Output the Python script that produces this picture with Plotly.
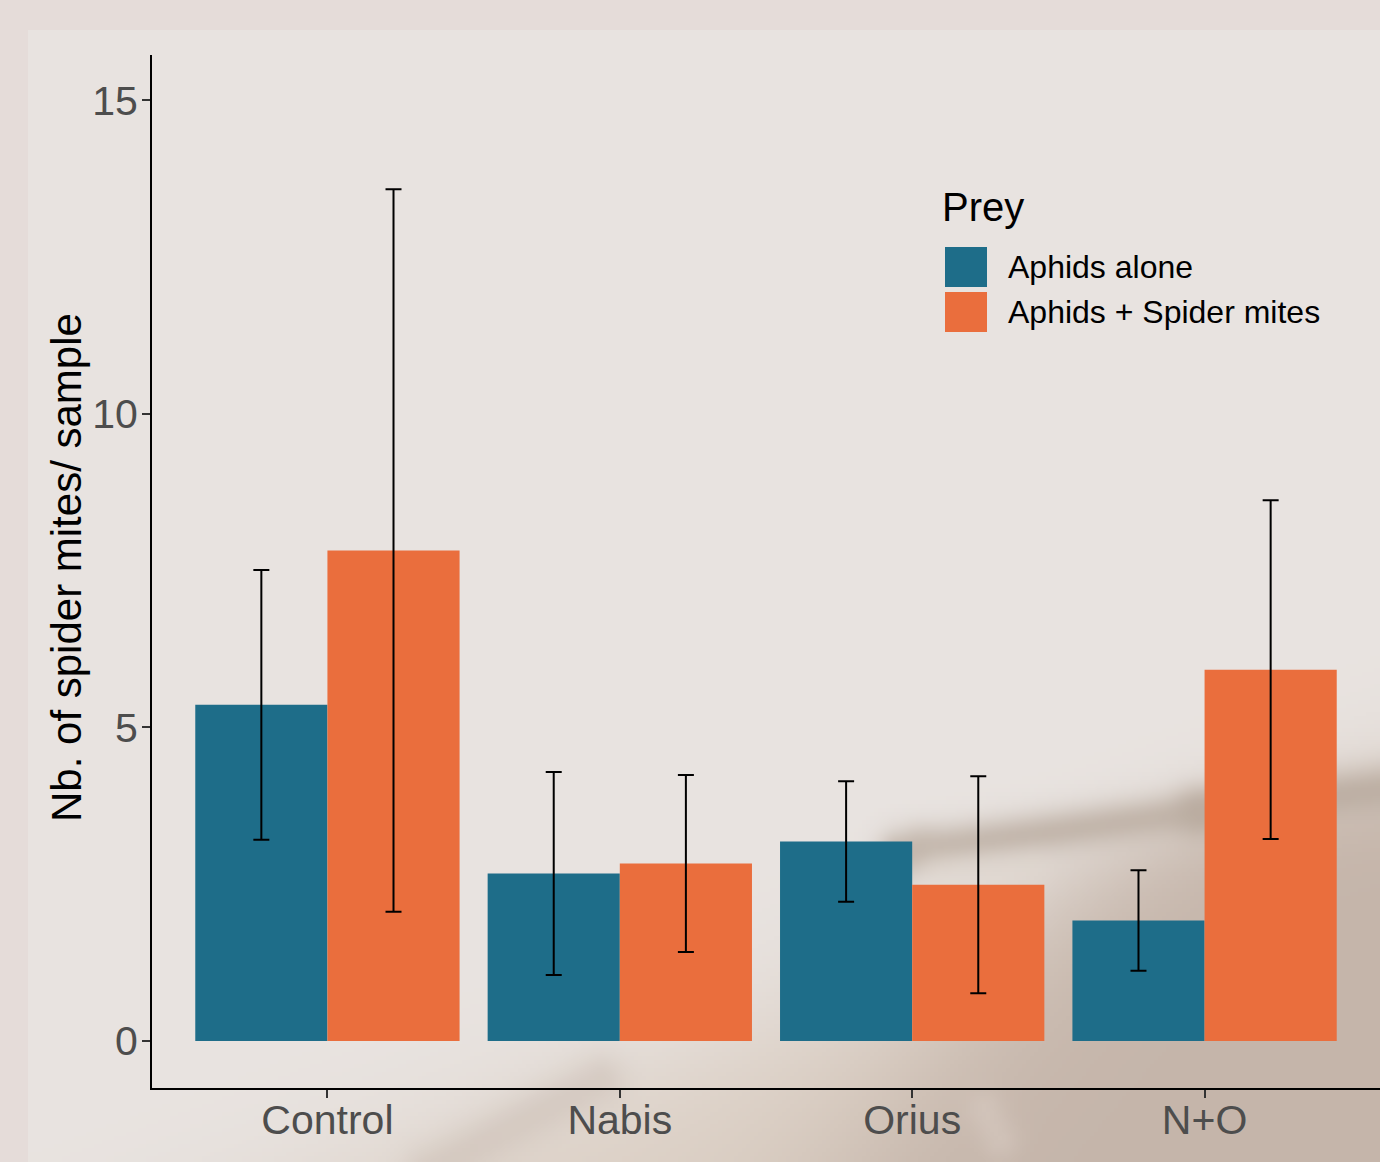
import base64
import struct
import zlib

import numpy as np
import plotly.graph_objects as go

# ---- data -------------------------------------------------------------
predators = ["Control", "Nabis", "Orius", "N+O"]
prey_labels = ["Aphids alone", "Aphids + Spider mites"]
mites_aphids_alone = [5.36, 2.67, 3.18, 1.92]
mites_aphids_plus_mites = [7.82, 2.83, 2.49, 5.92]
err_aphids_alone = [2.15, 1.62, 0.96, 0.80]
err_aphids_plus_mites = [5.76, 1.41, 1.73, 2.70]
y_ticks = [0, 5, 10, 15]
y_title = "Nb. of spider mites/ sample"
legend_title = "Prey"

TEAL = "#1e6d89"
ORANGE = "#ea6e3d"
FRAME = "#e5dcd9"
PANEL = (233, 228, 225)
FONT = "Arial, Liberation Sans, sans-serif"

W, H = 1380, 1162
ML, MR, MT, MB = 152, 0, 55, 74
PW, PH = W - ML - MR, H - MT - MB


def px2x(px):
    return (px - ML) / PW


def py2y(py):
    return (H - MB - py) / PH


# ---- soft photographic backdrop (low-res, upscaled by the browser) ----
def backdrop():
    x0, y0 = 28, 30
    s = 4
    w, h = (W - x0) // s, (H - y0) // s
    xs = x0 + (np.arange(w) + 0.5) * s
    ys = y0 + (np.arange(h) + 0.5) * s
    X, Y = np.meshgrid(xs, ys)
    img = np.ones((h, w, 3)) * np.array(PANEL, float)

    def blend(weight, color):
        nonlocal img
        c = np.array(color, float)
        img = img * (1 - weight[..., None]) + c * weight[..., None]

    def below_line(p, q, soft):
        # ~1 on the lower side of the line p->q, ~0 above it
        (ax, ay), (bx, by) = p, q
        nx, ny = -(by - ay), (bx - ax)
        if ny < 0:
            nx, ny = -nx, -ny
        n = np.hypot(nx, ny)
        d = ((X - ax) * nx + (Y - ay) * ny) / n
        return 1 / (1 + np.exp(-d / soft))

    def stroke(p, q, sigma):
        (ax, ay), (bx, by) = p, q
        vx, vy = bx - ax, by - ay
        t = np.clip(((X - ax) * vx + (Y - ay) * vy) / (vx * vx + vy * vy), 0, 1)
        dx, dy = X - (ax + t * vx), Y - (ay + t * vy)
        return np.exp(-(dx * dx + dy * dy) / (2 * sigma * sigma))

    # beige wash rising to the right
    blend(below_line((430, 1150), (1380, 800), 40), (220, 208, 197))
    # darker tan in the lower right
    tan = (below_line((880, 1130), (1110, 850), 45)
           * below_line((880, 868), (1380, 795), 20))
    blend(tan * 0.95, (196, 180, 169))
    # dark blurred streaks
    blend(stroke((900, 852), (1200, 812), 15) * 0.8, (188, 174, 162))
    blend(stroke((1200, 812), (1380, 790), 17) * 0.85, (186, 172, 160))
    blend(stroke((920, 845), (880, 890), 14) * 0.4, (196, 183, 172))
    blend(stroke((430, 1170), (600, 1080), 18) * 0.45, (200, 186, 176))
    # faint highlights
    blend(stroke((940, 870), (1030, 870), 14) * 0.4, (224, 215, 206))
    blend(stroke((985, 1110), (1000, 1140), 14) * 0.4, (222, 210, 202))

    arr = np.clip(img, 0, 255).astype(np.uint8)
    raw = b"".join(b"\x00" + row.tobytes() for row in arr)

    def chunk(tag, data):
        c = struct.pack(">I", len(data)) + tag + data
        return c + struct.pack(">I", zlib.crc32(tag + data) & 0xFFFFFFFF)

    png = (b"\x89PNG\r\n\x1a\n"
           + chunk(b"IHDR", struct.pack(">IIBBBBB", w, h, 8, 2, 0, 0, 0))
           + chunk(b"IDAT", zlib.compress(raw, 9))
           + chunk(b"IEND", b""))
    src = "data:image/png;base64," + base64.b64encode(png).decode()
    return dict(source=src, xref="paper", yref="paper",
                x=px2x(x0), y=py2y(y0),
                sizex=(W - x0) / PW, sizey=(H - y0) / PH,
                xanchor="left", yanchor="top", sizing="stretch",
                layer="below")


# ---- figure -----------------------------------------------------------
fig = go.Figure()
err_style = dict(type="data", symmetric=True, color="black",
                 thickness=2, width=8)
for name, vals, errs, color in [
    (prey_labels[0], mites_aphids_alone, err_aphids_alone, TEAL),
    (prey_labels[1], mites_aphids_plus_mites, err_aphids_plus_mites, ORANGE),
]:
    fig.add_trace(go.Bar(
        x=predators, y=vals, name=name, marker_color=color,
        marker_line_width=0, showlegend=False,
        error_y=dict(array=errs, **err_style),
    ))

axis_font = dict(family=FONT, size=41, color="#4d4d4d")

fig.update_layout(
    width=W, height=H,
    margin=dict(l=ML, r=MR, t=MT, b=MB, pad=0),
    paper_bgcolor=FRAME,
    plot_bgcolor="rgba(0,0,0,0)",
    barmode="group", bargap=0.096, bargroupgap=0,
    images=[backdrop()],
    xaxis=dict(
        range=[-0.6, 3.6], showgrid=False, zeroline=False,
        showline=True, linecolor="black", linewidth=2,
        ticks="outside", ticklen=8, tickwidth=1.5, tickcolor="#333333",
        tickfont=axis_font, ticklabelstandoff=-13, fixedrange=True,
    ),
    yaxis=dict(
        range=[-0.75, 15.72], tickvals=y_ticks,
        showgrid=False, zeroline=False,
        showline=True, linecolor="black", linewidth=2,
        ticks="outside", ticklen=8, tickwidth=1.5, tickcolor="#333333",
        tickfont=axis_font, ticklabelstandoff=-4, fixedrange=True,
    ),
    showlegend=False,
)

# y-axis title
fig.add_annotation(xref="paper", yref="paper", x=px2x(66), y=py2y(568),
                   text=y_title, textangle=-90, showarrow=False,
                   xanchor="center", yanchor="middle",
                   font=dict(family=FONT, size=42, color="black"))

# legend drawn with large swatches
legend_font = dict(family=FONT, size=32, color="black")
swatches = [(247, 287, TEAL), (292, 332, ORANGE)]
for (top, bottom, color), label in zip(swatches, prey_labels):
    fig.add_shape(type="rect", xref="paper", yref="paper",
                  x0=px2x(945), x1=px2x(987), y0=py2y(bottom), y1=py2y(top),
                  fillcolor=color, line_width=0)
    fig.add_annotation(xref="paper", yref="paper", x=px2x(1006),
                       y=py2y((top + bottom) / 2), text=label,
                       showarrow=False, xanchor="left", yanchor="middle",
                       font=legend_font)
fig.add_annotation(xref="paper", yref="paper", x=px2x(940), y=py2y(207),
                   text=legend_title, showarrow=False, xanchor="left",
                   yanchor="middle", font=dict(family=FONT, size=40,
                                               color="black"))

fig.write_html("out.html", config={"displayModeBar": False})
